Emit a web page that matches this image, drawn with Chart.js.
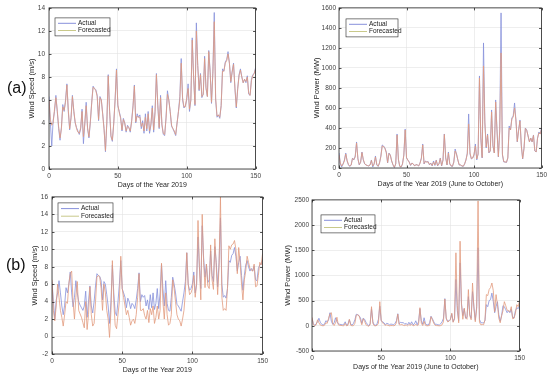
<!DOCTYPE html>
<html>
<head>
<meta charset="utf-8">
<script src="https://cdn.jsdelivr.net/npm/chart.js@4.4.1/dist/chart.umd.min.js"></script>
<style>
  body { margin: 0; background: #fff; width: 550px; height: 377px; position: relative; overflow: hidden; font-family: "Liberation Sans", Arial, sans-serif; }
  canvas { position: absolute; }
  .tag { position: absolute; font-size: 16px; color: #111; }
</style>
</head>
<body>
<canvas id="c1" width="242" height="190" style="left:22px;top:0px"></canvas>
<canvas id="c2" width="240" height="188" style="left:310px;top:1px"></canvas>
<canvas id="c3" width="242" height="186" style="left:29px;top:189px"></canvas>
<canvas id="c4" width="246" height="179" style="left:282px;top:193px"></canvas>
<div class="tag" style="left:7px;top:79px">(a)</div>
<div class="tag" style="left:6px;top:256px">(b)</div>

<script>
// dias 0..150
const dias = Array.from({length: 151}, (_, i) => i);

// velocidad del viento (m/s)
const speedActual = [
  6.3, 4.0, 2.0, 4.2, 5.0, 6.4, 5.0, 3.5, 2.5, 3.6,
  5.6, 5.0, 6.0, 7.4, 5.0, 3.4, 4.5, 6.4, 5.0, 4.0,
  3.6, 3.3, 3.0, 3.5, 5.2, 2.2, 4.0, 5.8, 3.5, 2.7,
  4.0, 5.8, 7.2, 7.0, 6.9, 6.4, 4.2, 6.3, 6.0, 4.8,
  3.5, 1.5, 4.0, 8.2, 5.0, 2.8, 2.4, 4.0, 6.0, 8.7,
  5.5, 5.0, 4.5, 3.3, 4.4, 4.0, 3.2, 3.8, 3.6, 3.2,
  4.2, 5.5, 7.3, 4.0, 4.8, 4.5, 4.7, 3.5, 4.2, 3.1,
  4.8, 3.3, 5.0, 3.1, 3.8, 5.5, 3.2, 5.0, 8.3, 5.5,
  3.5, 6.4, 3.8, 3.0, 2.9, 4.5, 6.8, 6.0, 5.0, 3.7,
  3.5, 3.2, 2.9, 4.0, 5.0, 6.3, 9.6, 6.0, 5.3, 5.5,
  6.0, 7.4, 5.0, 6.0, 11.4, 8.0, 5.5, 12.7, 9.0, 6.8,
  8.3, 6.2, 6.5, 9.8, 7.0, 6.3, 10.3, 8.5, 5.7, 8.5,
  13.6, 6.0, 4.5, 4.7, 4.4, 5.5, 8.7, 8.5, 9.3, 9.5,
  10.2, 9.2, 7.5, 8.5, 9.2, 7.0, 5.3, 7.0, 8.2, 8.7,
  8.0, 7.5, 7.8, 7.5, 8.1, 6.5, 6.4, 7.8, 8.2, 8.3,
  8.8
];
const speedForecastA = [
  6.0, 4.3, 3.8, 4.0, 5.2, 6.2, 5.1, 3.7, 2.7, 3.5,
  5.4, 5.1, 5.8, 7.3, 5.2, 3.5, 4.4, 6.3, 5.1, 4.1,
  3.5, 3.2, 3.1, 3.6, 5.0, 2.8, 3.9, 5.5, 3.6, 2.8,
  4.1, 5.7, 7.1, 7.0, 6.8, 6.3, 4.3, 6.2, 6.0, 4.7,
  3.4, 1.6, 4.1, 8.1, 5.1, 2.9, 2.5, 3.9, 6.0, 8.6,
  5.6, 4.9, 4.4, 3.4, 4.3, 4.0, 3.3, 3.7, 3.6, 3.3,
  4.1, 5.4, 7.2, 4.1, 4.6, 4.5, 4.5, 3.7, 4.0, 3.3,
  4.5, 3.5, 4.8, 3.3, 3.9, 5.3, 3.4, 4.9, 8.2, 5.6,
  3.6, 6.2, 3.9, 3.1, 3.0, 4.4, 6.5, 6.0, 5.0, 3.8,
  3.5, 3.3, 3.0, 4.0, 5.0, 6.0, 9.2, 6.2, 5.4, 5.4,
  6.2, 7.0, 5.2, 6.0, 11.2, 8.0, 5.6, 12.0, 9.0, 6.9,
  8.2, 6.3, 6.5, 9.6, 7.1, 6.3, 10.2, 8.4, 5.8, 8.3,
  12.8, 6.2, 4.6, 4.7, 4.5, 5.5, 8.5, 8.5, 9.2, 9.4,
  10.0, 9.2, 7.6, 8.4, 9.1, 7.1, 5.4, 6.9, 8.1, 8.6,
  8.0, 7.5, 7.8, 7.6, 8.0, 6.6, 6.4, 7.7, 8.1, 8.3,
  8.7
];
const speedForecastB = [
  6.5, 3.0, 1.8, 3.5, 6.0, 4.5, 3.0, 2.2, 1.2, 2.5,
  4.0, 3.8, 6.0, 7.2, 7.5, 4.0, 2.0, 4.5, 6.3, 3.0,
  2.6, 2.2, 1.6, 1.0, 4.0, 0.8, 2.5, 5.7, 2.5, 1.2,
  1.5, 4.0, 6.8, 7.0, 6.8, 5.5, 3.0, 6.0, 5.0, 3.0,
  2.0, -0.1, 3.0, 8.7, 4.0, 1.3, 0.9, 2.5, 4.0, 9.2,
  5.5, 4.5, 3.5, 2.5, 3.0, 2.2, 1.3, 1.8, 2.0, 1.5,
  2.5, 4.5, 7.2, 3.0, 3.0, 3.2, 2.4, 2.0, 3.0, 1.6,
  3.2, 2.5, 3.5, 1.5, 2.2, 3.5, 2.0, 3.0, 8.4, 4.0,
  2.0, 5.0, 2.5, 1.3, 1.5, 2.5, 6.5, 5.5, 4.0, 2.5,
  2.0, 1.8, 1.2, 2.0, 3.0, 5.0, 9.6, 6.0, 4.8, 5.0,
  5.5, 7.0, 4.5, 6.0, 13.3, 8.0, 4.2, 14.0, 8.5, 5.6,
  8.3, 5.8, 5.5, 10.5, 6.5, 5.4, 11.2, 8.0, 4.8, 8.0,
  16.0, 4.5, 3.0, 3.2, 3.0, 5.5, 10.4, 10.0, 10.5, 10.6,
  11.0, 10.0, 7.2, 10.2, 8.5, 6.0, 4.2, 6.5, 7.5, 9.2,
  8.5, 7.8, 7.6, 7.5, 8.3, 5.7, 5.8, 7.0, 8.5, 8.2,
  9.5
];

// potencia eolica (MW)
const powerActual = [
  150, 40, 10, 40, 80, 150, 70, 30, 15, 30,
  100, 80, 120, 260, 90, 30, 60, 160, 80, 40,
  30, 25, 20, 30, 80, 10, 40, 120, 30, 15,
  50, 120, 230, 220, 200, 160, 50, 150, 130, 70,
  30, 5, 40, 340, 80, 15, 10, 40, 130, 390,
  100, 80, 60, 25, 50, 40, 20, 35, 30, 20,
  50, 100, 240, 40, 70, 60, 65, 30, 50, 20,
  70, 25, 80, 20, 40, 100, 20, 80, 340, 100,
  30, 160, 40, 20, 15, 60, 190, 140, 80, 30,
  30, 20, 15, 40, 80, 150, 540, 140, 90, 100,
  130, 240, 80, 140, 920, 300, 100, 1250, 450, 200,
  340, 150, 170, 580, 220, 150, 680, 380, 110, 380,
  1550, 130, 60, 60, 55, 100, 420, 380, 500, 520,
  650, 480, 260, 380, 480, 220, 90, 200, 400, 380,
  320, 260, 300, 260, 330, 170, 160, 300, 360, 340,
  400
];
const powerForecastA = [
  130, 50, 20, 40, 70, 140, 75, 35, 20, 30,
  95, 85, 110, 250, 95, 35, 55, 155, 85, 45,
  30, 25, 22, 30, 75, 20, 40, 110, 35, 18,
  50, 115, 220, 215, 195, 155, 55, 145, 128, 70,
  32, 8, 42, 330, 85, 18, 12, 38, 125, 380,
  105, 78, 58, 28, 48, 40, 22, 33, 30, 22,
  48, 95, 230, 45, 65, 60, 60, 35, 45, 25,
  60, 30, 75, 25, 40, 95, 25, 78, 335, 105,
  32, 150, 45, 22, 18, 58, 170, 140, 82, 32,
  30, 22, 18, 40, 80, 140, 440, 150, 95, 100,
  140, 220, 90, 140, 900, 310, 105, 1020, 460, 210,
  330, 155, 170, 560, 225, 150, 660, 370, 115, 360,
  1150, 140, 65, 60, 58, 100, 400, 380, 490, 510,
  600, 480, 265, 375, 470, 225, 95, 195, 395, 375,
  320, 262, 298, 262, 325, 175, 160, 295, 350, 340,
  390
];
const powerForecastB = [
  170, 20, 5, 20, 120, 60, 15, 5, 0, 10,
  60, 50, 150, 240, 260, 40, 5, 60, 170, 20,
  10, 8, 3, 0, 50, 0, 10, 130, 10, 0,
  5, 50, 210, 220, 200, 110, 20, 140, 90, 20,
  5, -10, 20, 380, 50, 2, 0, 10, 50, 480,
  110, 60, 30, 10, 20, 8, 0, 5, 5, 2,
  10, 60, 230, 20, 20, 25, 10, 5, 20, 0,
  25, 10, 30, 0, 8, 30, 5, 20, 360, 50,
  5, 90, 10, 0, 2, 10, 180, 120, 50, 10,
  5, 3, 0, 5, 20, 80, 530, 160, 80, 90,
  120, 250, 70, 150, 1450, 400, 60, 1680, 420, 130,
  350, 160, 130, 720, 200, 120, 850, 350, 80, 350,
  2480, 70, 20, 25, 20, 120, 620, 600, 720, 760,
  850, 700, 280, 620, 420, 150, 60, 200, 300, 480,
  400, 310, 300, 280, 380, 140, 150, 250, 420, 380,
  500
];

const colorActual = "#8790db";
const colorForecast = "#e29a7e";
const colorLegendaF = "#c9c98a";
const fuente = "'Liberation Sans', Arial, sans-serif";

// caja, marcas hacia adentro y leyenda dentro del grafico
const cajaPlugin = {
  id: "caja",
  afterDraw(chart, args, opts) {
    const ctx = chart.ctx;
    const a = chart.chartArea;
    const sx = chart.scales.x, sy = chart.scales.y;
    ctx.save();
    ctx.strokeStyle = "#262626";
    ctx.lineWidth = 0.8;
    ctx.beginPath();
    sx.ticks.forEach(t => {
      const px = Math.round(sx.getPixelForValue(t.value)) + 0.5;
      ctx.moveTo(px, a.bottom); ctx.lineTo(px, a.bottom - 2.5);
      ctx.moveTo(px, a.top); ctx.lineTo(px, a.top + 2.5);
    });
    sy.ticks.forEach(t => {
      const py = Math.round(sy.getPixelForValue(t.value)) + 0.5;
      ctx.moveTo(a.left, py); ctx.lineTo(a.left + 2.5, py);
      ctx.moveTo(a.right, py); ctx.lineTo(a.right - 2.5, py);
    });
    ctx.stroke();
    ctx.strokeRect(a.left, a.top, a.right - a.left, a.bottom - a.top);

    // leyenda
    const lx = a.left + opts.dx, ly = a.top + opts.dy;
    ctx.fillStyle = "#fff";
    ctx.fillRect(lx, ly, opts.w, opts.h);
    ctx.lineWidth = 0.6;
    ctx.strokeRect(lx, ly, opts.w, opts.h);
    const filas = [["Actual", colorActual], ["Forecasted", colorLegendaF]];
    ctx.font = "6.5px " + fuente;
    ctx.textBaseline = "middle";
    filas.forEach((f, i) => {
      const yy = ly + opts.h * (0.3 + 0.4 * i);
      ctx.strokeStyle = f[1];
      ctx.lineWidth = 1;
      ctx.beginPath();
      ctx.moveTo(lx + 3, yy); ctx.lineTo(lx + 21, yy);
      ctx.stroke();
      ctx.fillStyle = "#222";
      ctx.fillText(f[0], lx + 23, yy);
    });
    ctx.restore();
  }
};

function crearGrafica(id, actual, forecast, cfg) {
  const ctx = document.getElementById(id).getContext("2d");
  return new Chart(ctx, {
    type: "line",
    data: {
      datasets: [
        {
          label: "Forecasted",
          data: dias.map((d, i) => ({x: d, y: forecast[i]})),
          borderColor: colorForecast,
          borderWidth: 0.8,
          pointRadius: 0,
          tension: 0
        },
        {
          label: "Actual",
          data: dias.map((d, i) => ({x: d, y: actual[i]})),
          borderColor: colorActual,
          borderWidth: 0.8,
          pointRadius: 0,
          tension: 0
        }
      ]
    },
    options: {
      responsive: false,
      animation: false,
      layout: { padding: { top: 6, right: 8, bottom: 0, left: 0 } },
      plugins: {
        legend: { display: false },
        tooltip: { enabled: false },
        caja: cfg.legend
      },
      scales: {
        x: {
          type: "linear",
          min: 0, max: 150,
          afterFit: s => { s.height = 21; },
          ticks: { stepSize: 50, maxRotation: 0, padding: 3, color: "#404040", font: { size: 6.5, family: fuente } },
          grid: { color: "#e3e3e3", lineWidth: 0.6, drawTicks: false },
          border: { display: false },
          title: { display: true, text: cfg.xTitle, color: "#262626", font: { size: 7, family: fuente }, padding: { top: 0, bottom: 1 } }
        },
        y: {
          min: cfg.yMin, max: cfg.yMax,
          afterFit: s => { s.width = cfg.yWidth; },
          ticks: {
            stepSize: cfg.yStep, padding: cfg.tickPad, color: "#404040",
            font: { size: 6.5, family: fuente },
            callback: v => String(v)
          },
          grid: { color: "#e3e3e3", lineWidth: 0.6, drawTicks: false },
          border: { display: false },
          title: { display: true, text: cfg.yTitle, color: "#262626", font: { size: 7.5, family: fuente }, padding: { top: cfg.titlePad, bottom: 0 } }
        }
      }
    },
    plugins: [cajaPlugin]
  });
}

crearGrafica("c1", speedActual, speedForecastA, {
  xTitle: "Days of the Year 2019", yTitle: "Wind Speed (m/s)",
  yMin: 0, yMax: 14, yStep: 2, yWidth: 27, tickPad: 4, titlePad: 5.5,
  legend: { dx: 6, dy: 10, w: 55, h: 18 }
});
crearGrafica("c2", powerActual, powerForecastA, {
  xTitle: "Days of the Year 2019 (June to October)", yTitle: "Wind Power (MW)",
  yMin: 0, yMax: 1600, yStep: 200, yWidth: 29, tickPad: 3, titlePad: 2.5,
  legend: { dx: 7, dy: 11, w: 52, h: 18 }
});
crearGrafica("c3", speedActual, speedForecastB, {
  xTitle: "Days of the Year 2019", yTitle: "Wind Speed (m/s)",
  yMin: -2, yMax: 16, yStep: 2, yWidth: 23, tickPad: 4, titlePad: 1.5,
  legend: { dx: 6, dy: 6, w: 55, h: 19 }
});
crearGrafica("c4", powerActual, powerForecastB, {
  xTitle: "Days of the Year 2019 (June to October)", yTitle: "Wind Power (MW)",
  yMin: -500, yMax: 2500, yStep: 500, yWidth: 30, tickPad: 3, titlePad: 1.5,
  legend: { dx: 9, dy: 15, w: 54, h: 18 }
});
</script>
</body>
</html>
